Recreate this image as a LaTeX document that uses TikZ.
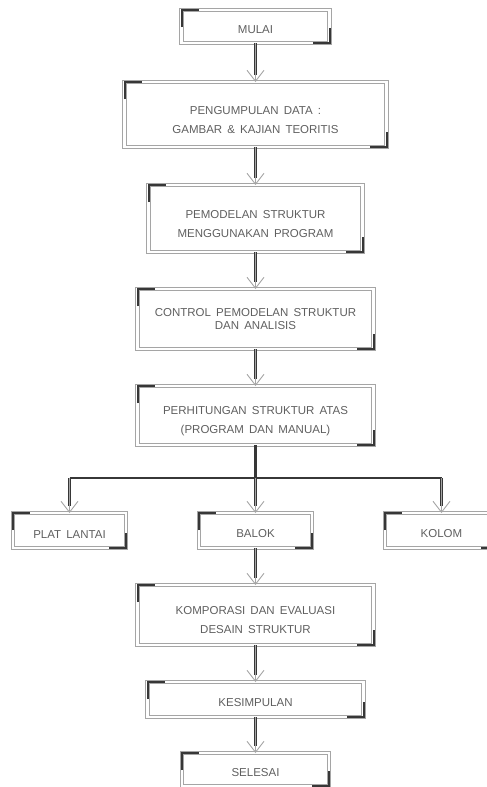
\documentclass[tikz,border=0pt]{standalone}
\usepackage{fontspec}
\setmainfont{Liberation Sans}[WordSpace=1.6]
\usepackage{tikz}
\usetikzlibrary{arrows.meta,positioning}
\definecolor{linec}{RGB}{165,165,165}
\definecolor{darkc}{RGB}{55,55,55}
\definecolor{textc}{RGB}{95,95,95}
\newcommand{\lowgap}{\rule{0pt}{19pt}}

\begin{document}
\begin{tikzpicture}[x=1pt, y=-1pt,
  stepbox/.style={draw=linec, line width=1pt, double=white, double distance=2.2pt,
    outer sep=0pt, inner sep=0pt, align=center, text=textc,
    font=\fontsize{11.5}{19}\selectfont,
    execute at begin node={\rule{0pt}{15pt}}},
  accent/.style={draw=darkc, line width=2pt},
  flow/.style={draw=linec, line width=0.8pt,
    -{Straight Barb[length=11pt,width=17pt,line width=0.9pt]},
    preaction={draw=darkc, line width=3pt, shorten >=7pt, -}},
  bus/.style={draw=darkc, line width=2.4pt}]
  \useasboundingbox (0,0) rectangle (487,787);
  % main column
  \node[stepbox, minimum width=148pt, minimum height=33pt] (mulai) at (255.5,26.5) {MULAI};
  \node[stepbox, minimum width=262pt, minimum height=65pt] (data) at (255.5,114.5)
    {\lowgap PENGUMPULAN DATA :\\GAMBAR \& KAJIAN TEORITIS};
  \node[stepbox, minimum width=214pt, minimum height=67pt] (model) at (255.5,218.5)
    {\lowgap PEMODELAN STRUKTUR\\MENGGUNAKAN PROGRAM};
  \node[stepbox, minimum width=236pt, minimum height=60pt] (control) at (255.5,319)
    {CONTROL PEMODELAN STRUKTUR\\[-6pt]DAN ANALISIS};
  \node[stepbox, minimum width=236pt, minimum height=59pt] (hitung) at (255.5,415.5)
    {\lowgap PERHITUNGAN STRUKTUR ATAS\\(PROGRAM DAN MANUAL)};
  % three elements
  \node[stepbox, minimum width=113pt, minimum height=35pt] (plat) at (69.5,530.5) {PLAT LANTAI};
  \node[stepbox, minimum width=113pt, minimum height=35pt] (balok) at (255.5,530.5) {BALOK};
  \node[stepbox, minimum width=113pt, minimum height=35pt] (kolom) at (441.5,530.5) {KOLOM};
  \node[stepbox, minimum width=236pt, minimum height=60pt] (evaluasi) at (255.5,615)
    {\lowgap KOMPORASI DAN EVALUASI\\DESAIN STRUKTUR};
  \node[stepbox, minimum width=216pt, minimum height=35pt] (simpul) at (255.5,699.5) {KESIMPULAN};
  \node[stepbox, minimum width=147pt, minimum height=33pt] (selesai) at (255.5,769.5) {SELESAI};

  % corner marks
  \foreach \n in {mulai,data,model,control,hitung,plat,balok,kolom,evaluasi,simpul,selesai} {
    \draw[accent] ([yshift=-17pt]\n.north west) -- (\n.north west) -- ([xshift=17pt]\n.north west);
    \draw[accent] ([yshift=15pt]\n.south east) -- (\n.south east) -- ([xshift=-17pt]\n.south east);
  }

  % connectors
  \draw[flow] (mulai.south) -- (data.north);
  \draw[flow] (data.south) -- (model.north);
  \draw[flow] (model.south) -- (control.north);
  \draw[flow] (control.south) -- (hitung.north);
  \coordinate (split) at (255.5,478);
  \coordinate (splitL) at (plat.north |- split);
  \coordinate (splitR) at (kolom.north |- split);
  \draw[bus] (hitung.south) -- (split);
  \draw[bus] (splitL) -- (splitR);
  \draw[flow] (splitL) -- (plat.north);
  \draw[flow] (split) -- (balok.north);
  \draw[flow] (splitR) -- (kolom.north);
  \draw[flow] (balok.south) -- (evaluasi.north);
  \draw[flow] (evaluasi.south) -- (simpul.north);
  \draw[flow] (simpul.south) -- (selesai.north);
\end{tikzpicture}
\end{document}
